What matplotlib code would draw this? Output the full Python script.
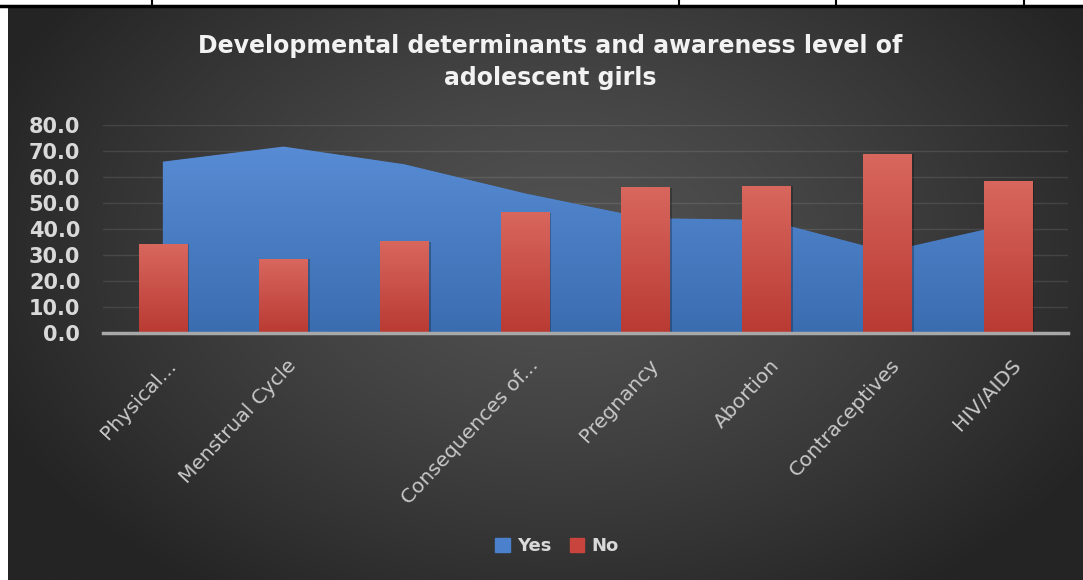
import numpy as np
import matplotlib
matplotlib.use('Agg')
import matplotlib.pyplot as plt
from matplotlib.colors import LinearSegmentedColormap
from matplotlib.patches import Patch
from matplotlib.transforms import ScaledTranslation

# data
categories = ['Physical...', 'Menstrual Cycle', '', 'Consequences of...',
              'Pregnancy', 'Abortion', 'Contraceptives', 'HIV/AIDS']
yes_pct = [65.9, 71.7, 64.9, 53.7, 44.2, 43.5, 31.3, 41.8]
no_pct = [34.1, 28.3, 35.1, 46.3, 55.8, 56.5, 68.7, 58.2]
y_ticks = [0, 10, 20, 30, 40, 50, 60, 70, 80]

W, H = 1083, 580
fig = plt.figure(figsize=(W / 100, H / 100), dpi=100)
fig.patch.set_facecolor('white')

# dark radial background of the chart object
bg = fig.add_axes([0, 0, 1, 1])
bg.set_xlim(0, W)
bg.set_ylim(H, 0)
bg.axis('off')
gx, gy = np.meshgrid(np.linspace(8, W, 400), np.linspace(7, H, 220))
d = np.sqrt(((gx - 560) / 620) ** 2 + ((gy - 250) / 420) ** 2)
d = np.clip(d, 0, 1)
light = np.array([0x52, 0x52, 0x52]) / 255
dark = np.array([0x24, 0x24, 0x24]) / 255
img = light[None, None, :] * (1 - d[..., None] ** 1.3) + dark[None, None, :] * d[..., None] ** 1.3
bg.imshow(img, extent=(8, W, H, 7), aspect='auto', zorder=0)

# table rules from the document above the chart
bg.plot([0, W], [5.5, 5.5], color='black', lw=2.5, zorder=1)
for vx in [152, 679, 836, 1024]:
    bg.plot([vx, vx], [0, 5.5], color='black', lw=1.5, zorder=1)

left, right = 102.5 / W, 1068 / W
bottom, top = (H - 333) / H, (H - 125) / H
ax = fig.add_axes([left, bottom, right - left, top - bottom])
ax.patch.set_alpha(0)

x = np.arange(len(categories))

# "Yes" area with vertical gradient
area = ax.fill_between(x, 0, yes_pct, color='#4a80cc', lw=0, zorder=2)
blue_cmap = LinearSegmentedColormap.from_list('b', ['#3a6db0', '#5b8fd8'])
grad = np.linspace(0, 1, 256)[:, None]
im = ax.imshow(grad, extent=(-0.5, 7.5, 0, 80), origin='lower', aspect='auto',
               cmap=blue_cmap, zorder=2.1)
im.set_clip_path(area.get_paths()[0], ax.transData)

# "No" bars with gradient
red_cmap = LinearSegmentedColormap.from_list('r', ['#b93a33', '#d8675e'])
bars = ax.bar(x, no_pct, width=0.4, color='#c9443c', zorder=3)
for b in bars:
    # faint shadow on the right
    ax.bar(b.get_x() + b.get_width() / 2 + 0.02, b.get_height(), width=b.get_width(),
           color='black', alpha=0.25, zorder=2.9)
    ax.imshow(grad, extent=(b.get_x(), b.get_x() + b.get_width(), 0, b.get_height()),
              origin='lower', aspect='auto', cmap=red_cmap, zorder=3.1)

ax.set_xlim(-0.5, 7.5)
ax.set_ylim(0, 80)
ax.set_yticks(y_ticks, [f'{v:.1f}' for v in y_ticks])
ax.yaxis.grid(True, color='white', alpha=0.10, lw=1)
ax.set_axisbelow(True)
for s in ['top', 'right', 'left']:
    ax.spines[s].set_visible(False)
ax.spines['bottom'].set_color('#a8a8a8')
ax.spines['bottom'].set_linewidth(2.5)
ax.spines['bottom'].set_zorder(5)

ax.tick_params(axis='y', length=0, pad=16, labelcolor='#d9d9d9', labelsize=15)
for t in ax.get_yticklabels():
    t.set_fontweight('bold')

ax.set_xticks(x, categories)
ax.tick_params(axis='x', length=0, pad=21, labelcolor='#c8c8c8', labelsize=14.5)
for t in ax.get_xticklabels():
    t.set_rotation(47)
    t.set_ha('right')
    t.set_va('center')
    t.set_rotation_mode('anchor')
    t.set_transform(t.get_transform() + ScaledTranslation(0.1, 0, fig.dpi_scale_trans))

fig.text(550 / W, 1 - 62 / H,
         'Developmental determinants and awareness level of\nadolescent girls',
         ha='center', va='center', color='#f2f2f2', fontsize=17,
         fontweight='bold', linespacing=1.45)

handles = [Patch(color='#4a80cc', label='Yes'), Patch(color='#c9443c', label='No')]
fig.legend(handles=handles, loc='center', bbox_to_anchor=(557 / W, 1 - 546 / H),
           ncol=2, frameon=False, handlelength=0.8, handleheight=0.8,
           handletextpad=0.4, columnspacing=1.0, labelcolor='#d9d9d9',
           prop={'size': 13, 'weight': 'bold'})

fig.savefig('out.png', dpi=100)
